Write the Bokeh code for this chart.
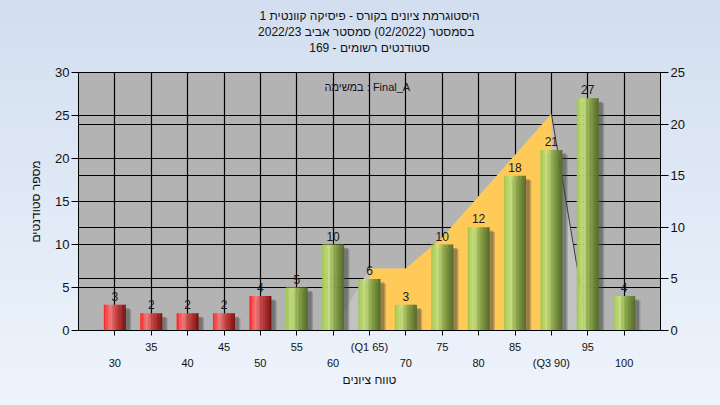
from bokeh.plotting import figure
from bokeh.models import (Range1d, LinearAxis, FixedTicker, Grid, Label, LabelSet, Title,
                          ColumnDataSource, InlineStyleSheet)
from bokeh.core.properties import value
from bokeh.embed import file_html
from bokeh.resources import INLINE

# ---------------- data ----------------
grades = [30, 35, 40, 45, 50, 55, 60, 65, 70, 75, 80, 85, 90, 95, 100]
counts = [3, 2, 2, 2, 4, 5, 10, 6, 3, 10, 12, 18, 21, 27, 4]
tick_labels = ["30", "35", "40", "45", "50", "55", "60", "(Q1 65)", "70", "75",
               "80", "85", "(Q3 90)", "95", "100"]
pass_mark = 55
q1, q3 = 65, 90
curve_x = [60, 65, 70, 75, 80, 85, 90, 95, 100]
curve_y = [0, 6, 6, 9, 13, 17, 21, 0, 0]
left_ticks = [0, 5, 10, 15, 20, 25, 30]
right_ticks = [0, 5, 10, 15, 20, 25]

title_lines = ["היסטוגרמת ציונים בקורס - פיסיקה קוונטית 1",
               "בסמסטר  (02/2022)  סמסטר אביב 2022/23",
               "סטודנטים רשומים - 169"]
legend_text = "במשימה : Final_A"
x_title = "טווח ציונים"
y_title = "מספר סטודנטים"

FONT = "Liberation Sans"
TXT = "#111111"

bg_css = InlineStyleSheet(css=":host { background: linear-gradient(to bottom, #d2deef, #eef4fc); }")

p = figure(width=720, height=405, x_range=Range1d(25, 105), y_range=Range1d(0, 30),
           output_backend="svg", toolbar_location=None,
           min_border_left=78, min_border_right=60, min_border_top=72, min_border_bottom=75,
           stylesheets=[bg_css])
p.border_fill_alpha = 0
p.background_fill_color = "#b3b3b3"
p.outline_line_color = "black"
p.outline_line_width = 1
p.extra_y_ranges = {"right": Range1d(0, 25)}

# ---------------- titles ----------------
# p.title is the outermost panel; the first added panel sits closest to the frame
def style_title(t, standoff):
    t.align = "center"
    t.offset = 8
    t.standoff = standoff
    t.text_font = FONT
    t.text_font_size = "12px"
    t.text_font_style = "normal"
    t.text_color = TXT

p.title.text = title_lines[0]
style_title(p.title, 0)
# spacer between the last title line and the plot frame (dot tinted like the background)
spacer = Title(text=".")
style_title(spacer, 7)
spacer.text_color = "#dae3f1"
p.add_layout(spacer, "above")
for line in (title_lines[2], title_lines[1]):
    t = Title(text=line)
    style_title(t, 0)
    p.add_layout(t, "above")

# ---------------- axes ----------------
def style_axis(ax, size):
    ax.major_tick_in = 0
    ax.minor_tick_line_color = None
    ax.axis_line_color = "black"
    ax.major_tick_line_color = "black"
    ax.major_label_text_font = FONT
    ax.major_label_text_font_size = size
    ax.major_label_text_color = TXT
    ax.major_label_standoff = 2
    ax.axis_label_text_font = FONT
    ax.axis_label_text_font_size = "12px"
    ax.axis_label_text_font_style = "normal"
    ax.axis_label_text_color = TXT

p.yaxis.ticker = FixedTicker(ticks=left_ticks)
style_axis(p.yaxis[0], "13px")
p.yaxis.major_tick_out = 7
p.yaxis.axis_label = y_title
p.yaxis.axis_label_standoff = 9

raxis = LinearAxis(y_range_name="right", ticker=FixedTicker(ticks=right_ticks))
style_axis(raxis, "13px")
raxis.major_tick_out = 8
p.add_layout(raxis, "right")

# x axis: two rows of tick labels (upper row = odd positions, lower row = even positions)
upper = {g: (lbl if i % 2 == 1 else "") for i, (g, lbl) in enumerate(zip(grades, tick_labels))}
lower = {g: (lbl if i % 2 == 0 else "") for i, (g, lbl) in enumerate(zip(grades, tick_labels))}

p.xaxis.ticker = FixedTicker(ticks=grades)
style_axis(p.xaxis[0], "11px")
p.xaxis.major_tick_out = 5
p.xaxis.major_label_standoff = 5
p.xaxis.major_label_overrides = upper

xaxis2 = LinearAxis(ticker=FixedTicker(ticks=grades))
style_axis(xaxis2, "11px")
xaxis2.axis_line_color = None
xaxis2.major_tick_line_color = None
xaxis2.major_tick_out = 0
xaxis2.major_label_standoff = 1
xaxis2.major_label_overrides = lower
xaxis2.axis_label = x_title
xaxis2.axis_label_standoff = 1
p.add_layout(xaxis2, "below")

# ---------------- grids ----------------
p.xgrid.ticker = FixedTicker(ticks=grades)
p.ygrid.ticker = FixedTicker(ticks=left_ticks)
for g in (p.xgrid[0], p.ygrid[0]):
    g.grid_line_color = "black"
    g.grid_line_width = 1.2
rgrid = Grid(dimension=1, ticker=FixedTicker(ticks=right_ticks), y_range_name="right",
             grid_line_color="black", grid_line_width=1.2)
p.add_layout(rgrid)

# ---------------- distribution area (right axis) ----------------
p.varea(x=curve_x, y1=[0] * len(curve_x), y2=curve_y, fill_color="#c2c2c2",
        y_range_name="right")
yx = [x for x in curve_x if q1 <= x <= q3]
yy = [y for x, y in zip(curve_x, curve_y) if q1 <= x <= q3]
p.varea(x=yx, y1=[0] * len(yx), y2=yy, fill_color="#ffca58", y_range_name="right")
i3 = curve_x.index(q3)
p.line(x=curve_x[i3:], y=curve_y[i3:], line_color="#3c3c3c", line_width=1,
       y_range_name="right")

# ---------------- bars with cylinder shading ----------------
BAR_W = 3.0
red_stops = [(0.0, (255, 28, 28)), (0.3, (244, 125, 125)), (0.6, (196, 58, 58)), (1.0, (122, 14, 14))]
green_stops = [(0.0, (160, 198, 76)), (0.3, (200, 226, 130)), (0.6, (136, 166, 72)), (1.0, (84, 104, 42))]

def interp(stops, t):
    for (t0, c0), (t1, c1) in zip(stops[:-1], stops[1:]):
        if t0 <= t <= t1:
            f = (t - t0) / (t1 - t0)
            c = [int(round(a + (b - a) * f)) for a, b in zip(c0, c1)]
            return "#%02x%02x%02x" % tuple(c)
    return "#%02x%02x%02x" % stops[-1][1]

red_x = [g for g in grades if g < pass_mark]
red_v = [c for g, c in zip(grades, counts) if g < pass_mark]
grn_x = [g for g in grades if g >= pass_mark]
grn_v = [c for g, c in zip(grades, counts) if g >= pass_mark]

for dx, dy, a in [(0.75, 0.55, 0.25), (0.55, 0.4, 0.35)]:
    p.vbar(x=[g + dx for g in grades], top=[c - dy for c in counts], bottom=-1,
           width=BAR_W, fill_color="#3a3a3a", fill_alpha=a, line_color=None)

N = 16
sw = BAR_W / N
for k in range(N):
    t = (k + 0.5) / N
    off = -BAR_W / 2 + (k + 0.5) * sw
    p.vbar(x=[g + off for g in red_x], top=red_v, bottom=0, width=sw * 1.15,
           fill_color=interp(red_stops, t), line_color=None)
    p.vbar(x=[g + off for g in grn_x], top=grn_v, bottom=0, width=sw * 1.15,
           fill_color=interp(green_stops, t), line_color=None)

# ---------------- value labels ----------------
vsrc = ColumnDataSource(dict(x=grades, y=counts, t=[str(c) for c in counts]))
p.add_layout(LabelSet(x="x", y="y", text="t", source=vsrc, y_offset=4,
                      text_align="center", text_baseline="bottom",
                      text_font=value(FONT), text_font_size=value("12px"), text_color="#1a1a1a"))

p.add_layout(Label(x=64.7, y=28.37, text=legend_text, text_align="center",
                   text_baseline="middle", text_font=FONT, text_font_size="11px",
                   text_color="#1a1020"))

open("out.html", "w").write(file_html(p, INLINE))
